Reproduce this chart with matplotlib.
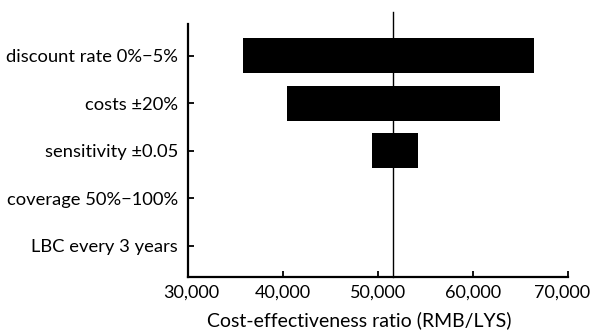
import matplotlib.pyplot as plt
import matplotlib.transforms as mtransforms

# tornado diagram data
params = ["discount rate 0%\u22125%", "costs \u00b120%", "sensitivity \u00b10.05",
          "coverage 50%\u2212100%", "LBC every 3 years"]
low_vals = [35830, 40470, 49400, 51650, 51650]
high_vals = [66410, 62820, 54280, 51650, 51650]
base_icer = 51650
x_ticks = [30000, 40000, 50000, 60000, 70000]

plt.rcParams['font.family'] = ['Lato', 'DejaVu Sans']

fig = plt.figure(figsize=(5.91, 3.32), dpi=100)
ax = fig.add_axes([0.318, 0.1666, 0.6426, 0.7611])

ypos = list(range(len(params)))
widths = [h - l for l, h in zip(low_vals, high_vals)]
ax.barh(ypos, widths, left=low_vals, height=0.735, color="black")

# base case line, sticks out a bit above the plot
ax.plot([base_icer, base_icer], [-0.92, 4.65], color="black", lw=1.0,
        clip_on=False, zorder=3)

ax.set_ylim(4.65, -0.67)
ax.set_xlim(30000, 70000)
ax.set_yticks(ypos)
ax.set_yticklabels(params, fontsize=13.2)
ax.set_xticks(x_ticks)
ax.set_xticklabels([])

# x tick labels drawn by hand so the end ones can be nudged inward
nudge = [3, 0, 0, 0, -6]  # pixels
for t, dx in zip(x_ticks, nudge):
    tr = mtransforms.offset_copy(ax.get_xaxis_transform(), fig=fig,
                                 x=dx, y=-8, units="dots")
    ax.text(t, 0, f"{t:,}", transform=tr, ha="center", va="top", fontsize=13)

ax.set_xlabel("Cost-effectiveness ratio (RMB/LYS)", fontsize=14)
ax.xaxis.set_label_coords(0.45, -0.135)

ax.spines["top"].set_visible(False)
ax.spines["right"].set_visible(False)
ax.spines["left"].set_linewidth(1.6)
ax.spines["bottom"].set_linewidth(1.6)
ax.tick_params(axis="both", direction="in", length=4, width=1.3)
ax.tick_params(axis="y", pad=7)

fig.savefig("out.png", dpi=100)
